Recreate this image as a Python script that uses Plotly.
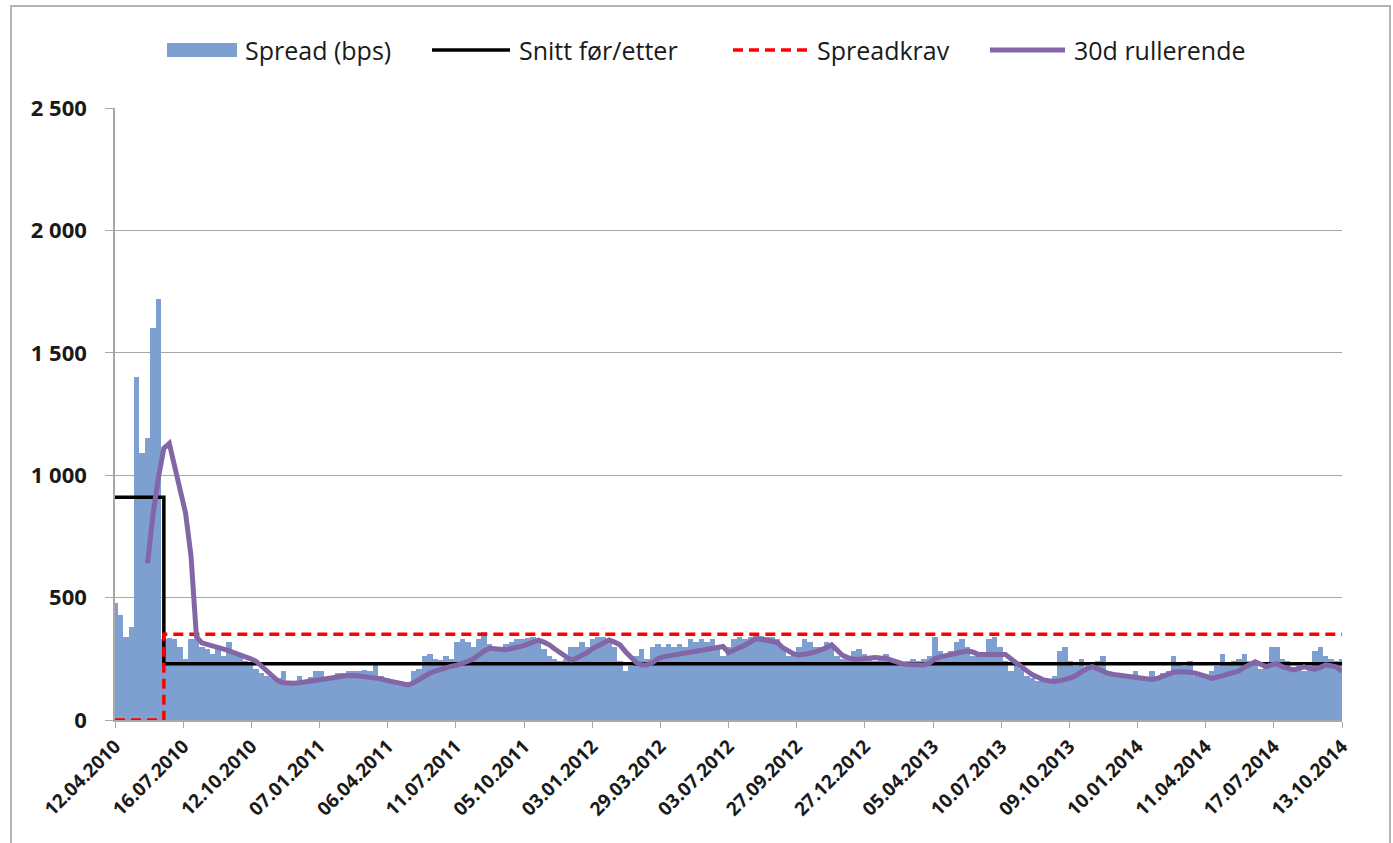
import numpy as np
import plotly.graph_objects as go

# x-axis labels (evenly spaced trading days in the original)
datoer = ["12.04.2010", "16.07.2010", "12.10.2010", "07.01.2011", "06.04.2011",
          "11.07.2011", "05.10.2011", "03.01.2012", "29.03.2012", "03.07.2012",
          "27.09.2012", "27.12.2012", "05.04.2013", "10.07.2013", "09.10.2013",
          "10.01.2014", "11.04.2014", "17.07.2014", "13.10.2014"]

# spread in bps, one value per week
spread = [
    480, 430, 340, 380, 1400, 1090, 1150, 1600, 1720,
    330, 335, 330, 300, 250, 330, 330, 300, 290, 270, 300, 260, 320, 280, 260,
    240, 230, 210, 190, 180, 170, 170, 200, 150, 160, 180, 160, 175, 200, 200,
    170, 180, 190, 190, 200, 200,
    200, 205, 200, 230, 180, 170, 165, 150, 145, 155, 200, 210, 260, 270, 250,
    245, 260, 250, 320, 330, 320, 300, 330, 360, 310, 300, 300, 310, 320, 330,
    330, 335, 340, 330, 290, 260, 250, 240, 250, 300, 300, 320, 300, 330, 340,
    340,
    330, 300, 240, 200, 220, 260, 290, 250, 300, 310, 300, 310, 300, 310, 300,
    330, 320, 330, 320, 330, 300, 260, 300, 330, 340, 330, 340, 350, 345, 340,
    340, 330, 290, 260, 270, 300, 330, 320, 300, 300, 320, 300, 260, 250, 260,
    280,
    290, 270, 260, 240, 250, 270, 240, 230, 220, 240, 250, 240, 250, 260, 340,
    280, 270, 280, 320, 330, 300, 260, 270, 260, 330, 340, 300, 240, 200, 230,
    210, 180, 170, 160, 170, 150, 180, 280, 300, 240, 220, 250, 210, 230, 240,
    260, 200, 180, 190, 180, 170, 200, 170, 175, 200, 180, 190, 200, 260, 230,
    220, 240, 180, 175, 180, 200, 220, 270, 230, 240, 250, 270, 240, 220, 210,
    230, 300, 300, 250, 240, 210, 220, 200, 220, 280, 300, 260, 250, 240, 250,
]

# 30d rolling average, first value at week 6
rullerende_start = 6
rullerende = [
    640, 840, 990, 1110, 1130, 1040, 950, 845, 670, 340,
    315, 310, 305, 298, 290, 282, 275, 268, 262, 250,
    240, 220, 200, 180, 160, 152, 150, 150, 152, 155,
    157, 160, 162, 165, 170, 176, 180, 182, 182,
    180, 178, 176, 174, 168, 162, 158, 150, 145, 143,
    152, 165, 180, 192, 200, 208, 214, 220, 224, 230,
    240, 250, 268, 282, 293, 292, 288, 287, 292, 296,
    302, 310, 318, 326, 318, 307, 290, 273, 258, 245,
    252, 262, 276, 292, 303, 315,
    327, 318, 307, 280, 255, 235, 225, 225, 235, 250,
    258, 262, 266, 268, 271, 275, 278, 282, 286, 290,
    295, 300, 276, 284, 295, 305, 318, 332, 330, 327,
    322, 316, 295, 280, 270, 266, 268, 273, 278, 285,
    295, 307, 285, 264, 255, 248,
    248, 252, 256, 255, 253, 252, 245, 236, 230, 227,
    225, 225, 225, 232, 250, 258, 264, 268, 274, 278,
    282, 278, 268, 268, 272, 273, 272, 268, 250, 232,
    220, 200, 185, 172, 164, 160, 157, 160, 165, 172,
    182, 198, 210, 218, 208,
    198, 190, 186, 183, 180, 177, 173, 167, 164, 166,
    170, 180, 190, 195, 197, 198, 195, 191, 186, 178,
    170, 174, 180, 188, 194, 200, 215, 228, 238, 228,
    218, 225, 230, 218, 210, 205, 210, 217, 212, 207,
    215, 225, 222, 216, 198,
]

# averages before/after and the spread requirement; change from week 9
skifte = 9
snitt_for, snitt_etter = 910, 230
krav_for, krav_etter = 0, 350

BLUE = "#7DA0D0"
PURPLE = "#8366A6"
GRID = "#A8A8A8"

n = len(spread)
x = np.arange(n)
snitt = [snitt_for if i < skifte else snitt_etter for i in x]
krav = [krav_for if i < skifte else krav_etter for i in x]
x_roll = np.arange(rullerende_start, rullerende_start + len(rullerende))

fig = go.Figure()
fig.add_trace(go.Bar(x=x, y=spread, width=1, marker=dict(color=BLUE, line=dict(width=0)),
                     name="Spread (bps)"))
fig.add_trace(go.Scatter(x=x, y=snitt, mode="lines", line_shape="hv",
                         line=dict(color="black", width=3.5), name="Snitt før/etter"))
fig.add_trace(go.Scatter(x=x, y=krav, mode="lines", line_shape="hv",
                         line=dict(color="#FF0000", width=3.5, dash="10px,6px"),
                         name="Spreadkrav"))
fig.add_trace(go.Scatter(x=x_roll, y=rullerende, mode="lines",
                         line=dict(color=PURPLE, width=5), name="30d rullerende"))

# plot area in page pixels (body margin is removed below)
W, H = 1393, 843
L, R, T, B = 115, 1342, 108, 720


def px(v):
    return (v - L) / (R - L)


def py(v):
    return (B - v) / (B - T)


# hand-made legend to match the long swatches of the original
ly = 50
shapes = [
    dict(type="rect", xref="paper", yref="paper", x0=px(167), x1=px(237),
         y0=py(57), y1=py(43), fillcolor=BLUE, line=dict(width=0)),
    dict(type="line", xref="paper", yref="paper", x0=px(432), x1=px(510),
         y0=py(ly), y1=py(ly), line=dict(color="black", width=3.5)),
    dict(type="line", xref="paper", yref="paper", x0=px(733), x1=px(810),
         y0=py(ly), y1=py(ly), line=dict(color="#FF0000", width=3.5, dash="10px,6px")),
    dict(type="line", xref="paper", yref="paper", x0=px(990), x1=px(1065),
         y0=py(ly), y1=py(ly), line=dict(color=PURPLE, width=5)),
    # outer chart border
    dict(type="rect", xref="paper", yref="paper", x0=px(11), x1=px(1390),
         y0=py(860), y1=py(6), line=dict(color="#B4B4B4", width=2)),
]
labels = [("Spread (bps)", 243), ("Snitt før/etter", 517),
          ("Spreadkrav", 815), ("30d rullerende", 1072)]
annotations = [
    dict(text=t, x=px(xp), y=py(ly), xref="paper", yref="paper", showarrow=False,
         xanchor="left", yanchor="middle",
         font=dict(family="Open Sans", size=25, color="#1A1A1A"))
    for t, xp in labels
]

fig.update_layout(
    width=W, height=H, autosize=False,
    margin=dict(l=L, r=W - R, t=T, b=H - B),
    paper_bgcolor="white", plot_bgcolor="white",
    bargap=0, showlegend=False, separators=", ",
    shapes=shapes, annotations=annotations,
    xaxis=dict(
        range=[0, n - 1], tickmode="array",
        tickvals=np.linspace(0, n - 1, len(datoer)), ticktext=datoer,
        tickangle=-45, ticks="outside", ticklen=6, tickcolor=GRID,
        showline=True, linecolor=GRID, linewidth=1.5, showgrid=False, zeroline=False,
        tickfont=dict(family="Open Sans", size=19, weight="bold", color="#1A1A1A"),
    ),
    yaxis=dict(
        range=[0, 2500], dtick=500, tickformat=",d", separatethousands=True,
        showgrid=True, gridcolor=GRID, gridwidth=1.3,
        showline=True, linecolor=GRID, linewidth=1.5,
        ticks="outside", ticklen=8, tickcolor=GRID, ticklabelstandoff=14,
        zeroline=False,
        tickfont=dict(family="Open Sans", size=22, weight="bold", color="#1A1A1A"),
    ),
)

fig.write_html("out.html", config={"displayModeBar": False},
               post_script="document.body.style.margin='0';"
                           "document.body.style.overflow='hidden';")
